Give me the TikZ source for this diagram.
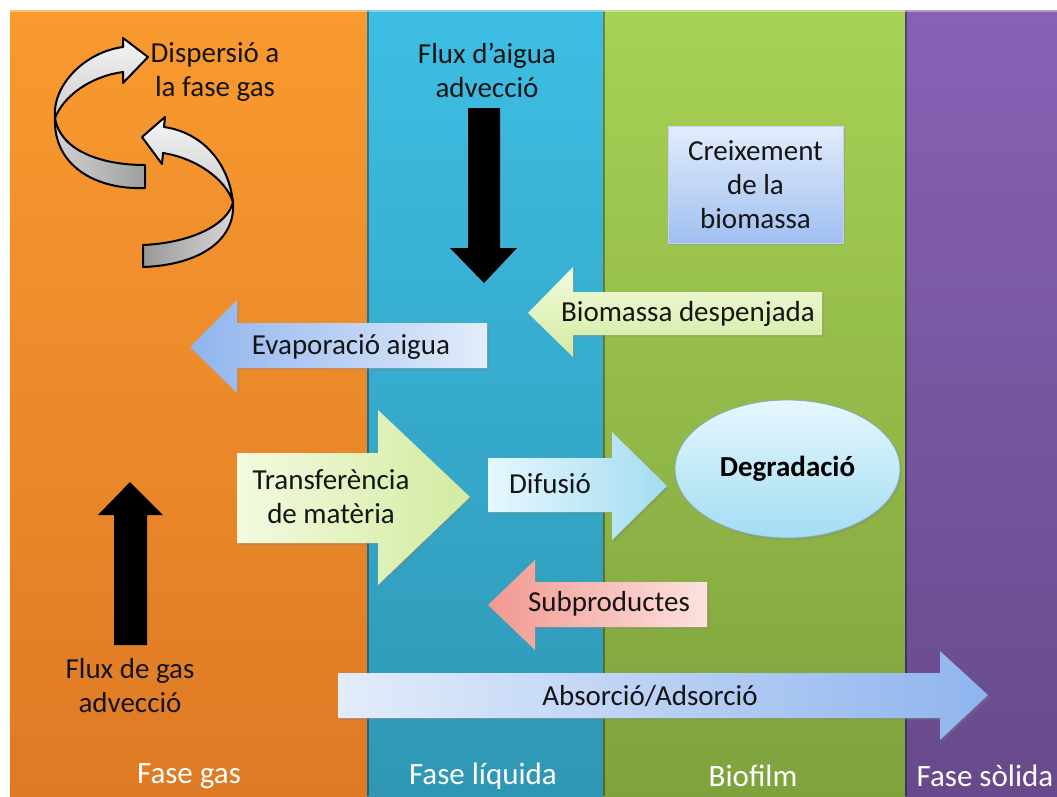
\documentclass[tikz,border=0pt]{standalone}
\usepackage{fontspec}
\setmainfont{Carlito}
\usetikzlibrary{shadows,shapes.geometric}

% phase columns
\definecolor{gasTop}{HTML}{F99A2F}
\definecolor{gasBot}{HTML}{DE7A25}
\definecolor{liqTop}{HTML}{3DBEE4}
\definecolor{liqBot}{HTML}{2F97B4}
\definecolor{bioTop}{HTML}{A7D255}
\definecolor{bioBot}{HTML}{7FA23D}
\definecolor{solTop}{HTML}{8662B5}
\definecolor{solBot}{HTML}{674A8B}
% block arrows and boxes
\definecolor{paleBlue}{HTML}{E3ECFB}
\definecolor{midBlue}{HTML}{8FB4EE}
\definecolor{paleLime}{HTML}{F3FADF}
\definecolor{midLime}{HTML}{D2EBA0}
\definecolor{paleCyan}{HTML}{E6F7FD}
\definecolor{midCyan}{HTML}{A3DDF3}
\definecolor{palePink}{HTML}{FDE2DE}
\definecolor{midPink}{HTML}{F29891}
\definecolor{txt}{HTML}{151515}

\begin{document}
\begin{tikzpicture}[x=1pt,y=-1pt,
  font=\fontsize{29}{34}\selectfont,
  lbl/.style={align=center, text=txt, inner sep=0pt},
  phase/.style={text=white, inner sep=0pt, font=\fontsize{31}{34}\selectfont},
  blk/.style={drop shadow={opacity=0.3, shadow xshift=2pt, shadow yshift=-2pt}},
  ribbon/.style={draw=black, line width=2pt, line join=round},
  solid arrow/.style={fill=black}]

\useasboundingbox (0,0) rectangle (1057,796);
\fill[white] (0,0) rectangle (1057,796);

% ---- phase columns ----
\shade[top color=gasTop, bottom color=gasBot] (10,10) rectangle (367,796);
\shade[top color=liqTop, bottom color=liqBot] (367,10) rectangle (603,796);
\shade[top color=bioTop, bottom color=bioBot] (603,10) rectangle (905,796);
\shade[top color=solTop, bottom color=solBot] (905,10) rectangle (1057,796);
\foreach \xx in {367,603,905}
  \draw[black, opacity=0.35, line width=1.5pt] (\xx+1,11) -- (\xx+1,796);
\draw[white, opacity=0.35, line width=1.5pt] (10,11) -- (1057,11);

% ---- twisted dispersion arrows ----
% upper arrow: back face, then front face with head
\shade[ribbon, left color=gray!35, right color=gray!75]
  (55,118) .. controls (60,150) and (100,165) .. (145,165)
  -- (145,188) .. controls (95,190) and (53,165) .. (55,118) -- cycle;
\shade[ribbon, top color=gray!8, bottom color=gray!40]
  (123,47) -- (123,38) -- (148,57) -- (123,83) -- (123,72)
  .. controls (92,76) and (64,95) .. (55,118)
  .. controls (52,85) and (85,52) .. (123,47) -- cycle;
% lower arrow: back face, then front face with head
\shade[ribbon, left color=gray!80, right color=gray!30]
  (233,202) .. controls (228,225) and (190,243) .. (143,245)
  -- (143,267) .. controls (200,265) and (236,240) .. (233,202) -- cycle;
\shade[ribbon, top color=gray!8, bottom color=gray!40]
  (164,127) -- (165,117) -- (142,137) -- (162,164) -- (163,153)
  .. controls (195,158) and (225,178) .. (233,202)
  .. controls (228,160) and (200,132) .. (164,127) -- cycle;
\node[lbl] (disp) at (215,72) {Dispersió a\\la fase gas};

% ---- advection arrows ----
\node[lbl] (aigua) at (487,70) {Flux d’aigua\\advecció};
\fill[solid arrow] (468,108) -- (500,108) -- (500,248) -- (517,248)
  -- (484,283) -- (450,248) -- (468,248) -- cycle;
\node[lbl] (gasflux) at (130,686) {Flux de gas\\advecció};
\fill[solid arrow] (114,645) -- (114,515) -- (98,515) -- (130,482)
  -- (163,515) -- (147,515) -- (147,645) -- cycle;

% ---- biomass growth ----
\node[blk, lbl, draw=white!80!blue, line width=0.6pt,
      top color=paleBlue, bottom color=midBlue!85!white,
      minimum width=175pt, minimum height=117pt] (creix) at (755.5,184.5)
  {Creixement\\de la\\biomassa};

% ---- detached biomass ----
\shade[blk, top color=paleLime, bottom color=midLime]
  (822,292) -- (573,292) -- (573,267) -- (528,313) -- (573,357)
  -- (573,335) -- (822,335) -- cycle;
\node[lbl] (biom) at (688,314) {Biomassa despenjada};

% ---- water evaporation ----
\shade[blk, left color=midBlue, right color=paleBlue]
  (487,323) -- (237,323) -- (237,300) -- (190,347) -- (237,393)
  -- (237,368) -- (487,368) -- cycle;
\node[lbl] (evap) at (351,347) {Evaporació aigua};

% ---- mass transfer ----
\shade[blk, left color=paleLime, right color=midLime]
  (237,453) -- (378,453) -- (378,410) -- (470,497) -- (378,585)
  -- (378,543) -- (237,543) -- cycle;
\node[lbl] (transf) at (331,497) {Transferència\\de matèria};

% ---- diffusion ----
\shade[blk, left color=paleCyan, right color=midCyan]
  (488,458) -- (612,458) -- (612,432) -- (667,486) -- (612,540)
  -- (612,512) -- (488,512) -- cycle;
\node[lbl] (difus) at (550,484) {Difusió};

% ---- degradation ----
\node[blk, ellipse, draw=white!60!cyan!70!black, line width=0.8pt,
      top color=paleCyan, bottom color=midCyan,
      minimum width=225pt, minimum height=138pt, inner sep=0pt] (degr) at (787.5,469)
  {\textbf{Degradació}};

% ---- by-products ----
\shade[blk, left color=midPink, right color=palePink]
  (707,582) -- (535,582) -- (535,560) -- (488,605) -- (535,650)
  -- (535,627) -- (707,627) -- cycle;
\node[lbl] (subpr) at (609,604) {Subproductes};

% ---- absorption / adsorption ----
\shade[blk, left color=paleBlue, right color=midBlue]
  (338,673) -- (940,673) -- (940,651) -- (988,695) -- (940,740)
  -- (940,718) -- (338,718) -- cycle;
\node[lbl] (abs) at (650,696) {Absorció/Adsorció};

% ---- phase names ----
\node[phase] (pgas) at (189,776) {Fase gas};
\node[phase] (pliq) at (483,776) {Fase líquida};
\node[phase] (pbio) at (753,776) {Biofilm};
\node[phase] (psol) at (985,776) {Fase sòlida};
\end{tikzpicture}
\end{document}
